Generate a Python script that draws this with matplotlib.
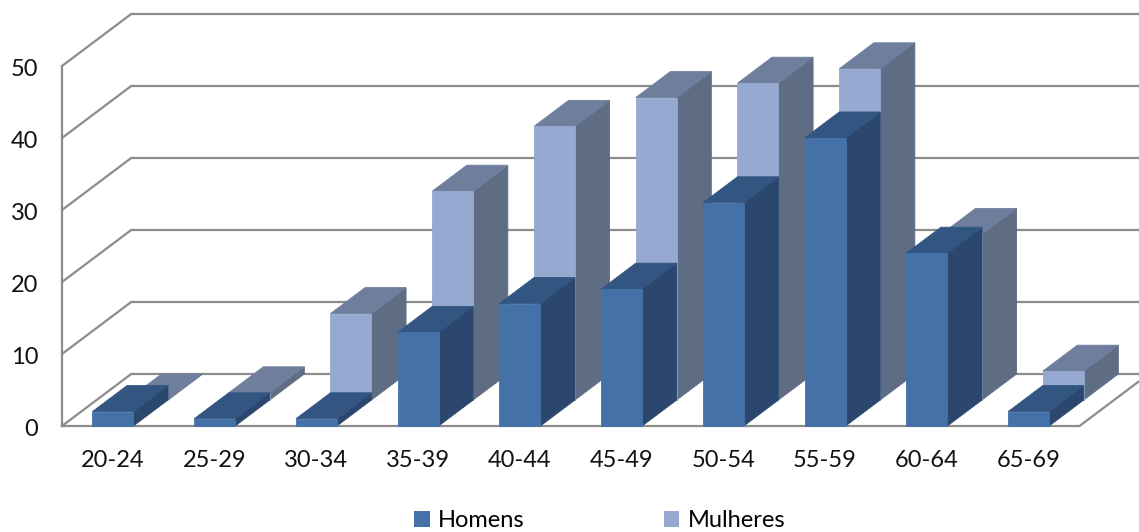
import matplotlib
matplotlib.use("Agg")
import matplotlib.pyplot as plt
from matplotlib.patches import Polygon, Patch
from matplotlib.transforms import ScaledTranslation

categories = ["20-24", "25-29", "30-34", "35-39", "40-44", "45-49", "50-54", "55-59", "60-64", "65-69"]
homens = [2, 1, 1, 13, 17, 19, 31, 40, 24, 2]
mulheres = [0, 1, 12, 29, 38, 42, 44, 46, 23, 4]
y_ticks = [0, 10, 20, 30, 40, 50]

plt.rcParams["font.family"] = ["Lato", "DejaVu Sans"]

W, H = 1139, 532
PX_X = 101.75   # pixels per category
PX_Y = 7.2      # pixels per value unit
LEFT, BASE = 62, 426
fig = plt.figure(figsize=(W / 100, H / 100), dpi=100, facecolor="white")
ax = fig.add_axes([LEFT / W, (H - BASE) / H, (W - LEFT) / W, (BASE - 14) / H])
x0 = -0.5
ax.set_xlim(x0, x0 + (W - LEFT) / PX_X)
ax.set_ylim(0, (BASE - 14) / PX_Y)
ax.patch.set_alpha(0)
for s in ax.spines.values():
    s.set_visible(False)

# depth of one series row, in data units
DX, DY = 34.6 / PX_X, 26.0 / PX_Y
BW = 41 / PX_X
x_end = x0 + len(categories)
GRID = "#8c8c8c"
grid_kw = dict(color=GRID, lw=1.6, clip_on=False, zorder=1, solid_capstyle="projecting")

# walls and floor
for v in y_ticks:
    ax.plot([x0, x0 + 2 * DX, x_end + 2 * DX], [v, v + 2 * DY, v + 2 * DY], **grid_kw)
ax.plot([x0, x0], [0, y_ticks[-1]], **grid_kw)
ax.plot([x0, x_end, x_end + 2 * DX], [0, 0, 2 * DY], **grid_kw)


def bar3d(cx, v, row, front, top, side, z):
    xl = cx - BW / 2 + row * DX
    xr = xl + BW
    b = row * DY
    t = b + v
    kw = dict(clip_on=False, zorder=z, lw=0.6)
    ax.add_patch(Polygon([(xr, b), (xr + DX, b + DY), (xr + DX, t + DY), (xr, t)], fc=side, ec=side, **kw))
    ax.add_patch(Polygon([(xl, t), (xr, t), (xr + DX, t + DY), (xl + DX, t + DY)], fc=top, ec=top, **kw))
    if v > 0:
        ax.add_patch(Polygon([(xl, b), (xr, b), (xr, t), (xl, t)], fc=front, ec=front, **kw))


C_H = ("#4472A8", "#325581", "#2C476D")
C_M = ("#95A9D1", "#6E7E9C", "#5E6C84")
for i, v in enumerate(mulheres):
    bar3d(i, v, 1, *C_M, 3)
for i, v in enumerate(homens):
    bar3d(i, v, 0, *C_H, 4)

ax.set_xticks(range(len(categories)), categories)
ax.set_yticks(y_ticks)
ax.tick_params(axis="both", length=0, labelsize=17, labelcolor="#111111")
ax.tick_params(axis="x", pad=17)
ax.tick_params(axis="y", pad=17)
shift = ScaledTranslation(0, -2 / 100, fig.dpi_scale_trans)
for lab in ax.get_yticklabels():
    lab.set_transform(lab.get_transform() + shift)

handles = [Patch(fc=C_H[0], label="Homens"), Patch(fc=C_M[0], label="Mulheres")]
fig.legend(handles=handles, ncol=2, frameon=False, fontsize=17,
           loc="lower left", bbox_to_anchor=(414 / W, 1 / H), borderaxespad=0, borderpad=0,
           handlelength=0.66, handleheight=0.66, handletextpad=0.35, columnspacing=5.9)

fig.savefig("out.png", dpi=100)
